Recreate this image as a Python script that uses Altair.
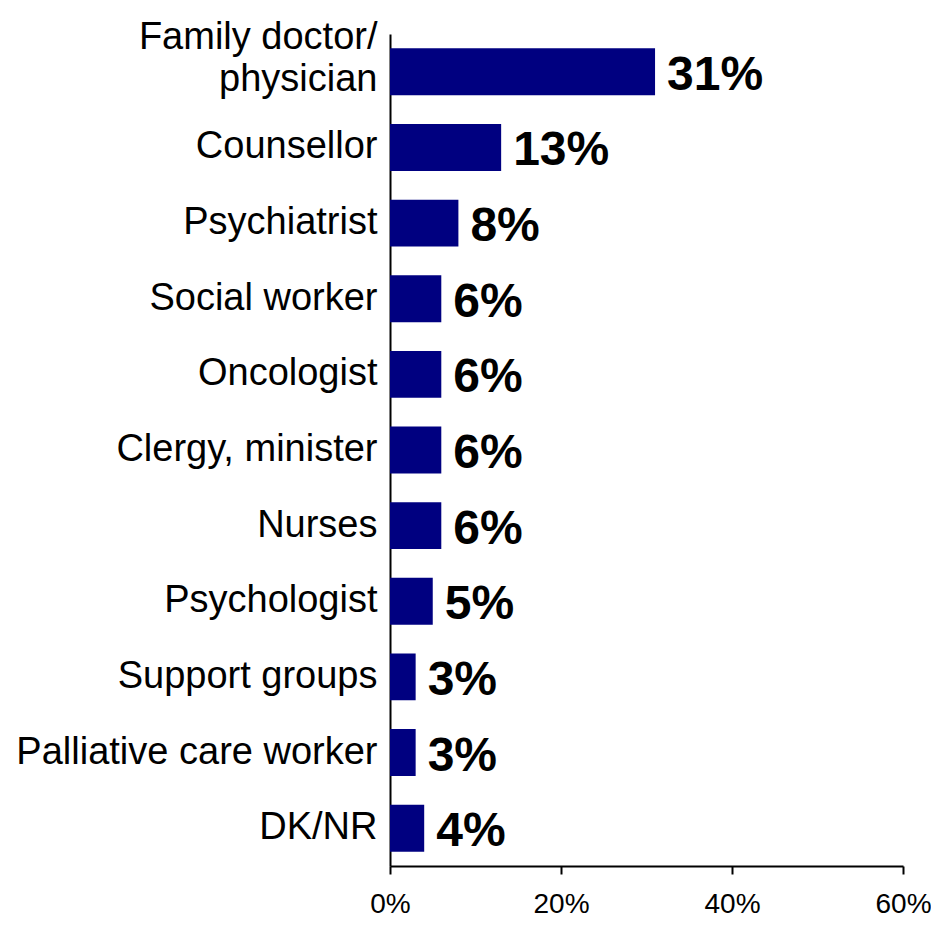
import altair as alt
import pandas as pd

categories = ["Family doctor/physician", "Counsellor", "Psychiatrist", "Social worker",
              "Oncologist", "Clergy, minister", "Nurses", "Psychologist",
              "Support groups", "Palliative care worker", "DK/NR"]
values = [0.31, 0.13, 0.08, 0.06, 0.06, 0.06, 0.06, 0.05, 0.03, 0.03, 0.04]
labels = ["31%", "13%", "8%", "6%", "6%", "6%", "6%", "5%", "3%", "3%", "4%"]
x_ticks = [0, 0.2, 0.4, 0.6]

df = pd.DataFrame({"cat": categories, "val": values, "lab": labels})

first = "datum.value == 'Family doctor/physician'"

y_enc = alt.Y("cat:N", sort=categories, title=None,
              scale=alt.Scale(paddingInner=0.38, paddingOuter=0.19),
              axis=alt.Axis(ticks=False, domain=True, domainColor="black", domainWidth=2,
                            labelFont="Liberation Sans", labelFontSize=38,
                            labelColor="black", labelPadding=13, labelLimit=500,
                            labelLineHeight=42,
                            labelOffset={"condition": {"test": first, "value": -34}, "value": 0},
                            labelExpr=first + " ? ['Family doctor/', 'physician'] : datum.value"))
x_enc = alt.X("val:Q", title=None,
              scale=alt.Scale(domain=[0, 0.6], nice=False),
              axis=alt.Axis(values=x_ticks, format=".0%", grid=False, domainColor="black",
                            domainWidth=2, tickColor="black", tickWidth=2, tickSize=8,
                            labelFont="Liberation Sans", labelFontSize=28, labelColor="black",
                            labelPadding=16, labelFlush=False))

bars = alt.Chart(df).mark_bar(color="#000080").encode(x=x_enc, y=y_enc)
text = alt.Chart(df).mark_text(align="left", baseline="middle", dx=12, dy=4,
                               font="Liberation Sans", fontSize=48, fontWeight="bold",
                               color="black").encode(
    x=alt.X("val:Q"), y=alt.Y("cat:N", sort=categories), text="lab:N")

chart = (bars + text).properties(
    width=513, height=832,
    background="white",
    autosize=alt.AutoSizeParams(type="none"),
    padding={"left": 382, "top": 26, "right": 28, "bottom": 51},
).configure_view(stroke=None)

chart.save("out.html", embed_options={"renderer": "svg", "actions": False})
